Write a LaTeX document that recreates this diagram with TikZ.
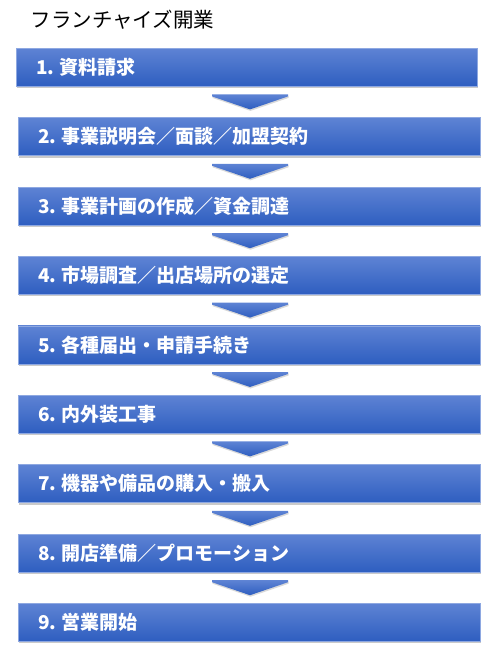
\documentclass[tikz,border=0pt]{standalone}
\usepackage{fontspec}
\newfontfamily\jpfont{Noto Sans CJK JP}
\usetikzlibrary{shadows}

\definecolor{barTop}{RGB}{94,131,212}
\definecolor{barBottom}{RGB}{46,94,192}

\newcommand{\stepno}[1]{#1.\hspace{5pt}}

\tikzset{
  stepbar/.style={rectangle, anchor=north west, top color=barTop, bottom color=barBottom,
    draw=barTop!70!white, line width=0.4pt, minimum height=38pt, text width=422pt,
    inner xsep=20pt, inner ysep=0pt, align=left, text=white,
    font=\jpfont\bfseries\fontsize{19}{19}\selectfont,
    drop shadow={shadow xshift=1pt, shadow yshift=-2pt, opacity=0.35, fill=black!60}},
  downarrow/.style={top color=barTop, bottom color=barBottom,
    drop shadow={shadow xshift=0.5pt, shadow yshift=-1.5pt, opacity=0.25, fill=black!60}}
}

\begin{document}
\begin{tikzpicture}[x=1pt, y=-1pt]
\useasboundingbox (0,0) rectangle (500,661);

% Title
\node (title) at (27,20) [anchor=west, font=\jpfont\fontsize{20.5}{20.5}\selectfont]{フランチャイズ開業};

% Steps
\pgfmathsetmacro{\gap}{69.4}
\node (s1) at (16,48) [stepbar, text width=421pt]{\stepno{1}資料請求};
\node (s2) at (18,{48+\gap}) [stepbar]{\stepno{2}事業説明会／面談／加盟契約};
\node (s3) at (18,{48+2*\gap}) [stepbar]{\stepno{3}事業計画の作成／資金調達};
\node (s4) at (18,{48+3*\gap}) [stepbar]{\stepno{4}市場調査／出店場所の選定};
\node (s5) at (18,{48+4*\gap}) [stepbar]{\stepno{5}各種届出・申請手続き};
\node (s6) at (18,{48+5*\gap}) [stepbar]{\stepno{6}内外装工事};
\node (s7) at (18,{48+6*\gap}) [stepbar]{\stepno{7}機器や備品の購入・搬入};
\node (s8) at (18,{48+7*\gap}) [stepbar]{\stepno{8}開店準備／プロモーション};
\node (s9) at (18,{48+8*\gap}) [stepbar]{\stepno{9}営業開始};

% Arrows between the steps
\foreach \a/\b in {s1/s2, s2/s3, s3/s4, s4/s5, s5/s6, s6/s7, s7/s8, s8/s9}{
  \path[downarrow] ([xshift=-38pt, yshift=-8pt]\a.south -| 250,0)
    -- ([xshift=38pt, yshift=-8pt]\a.south -| 250,0)
    -- ([xshift=38pt, yshift=-10pt]\a.south -| 250,0)
    -- ([yshift=8pt]\b.north -| 250,0)
    -- ([xshift=-38pt, yshift=-10pt]\a.south -| 250,0) -- cycle;
}
\end{tikzpicture}
\end{document}
